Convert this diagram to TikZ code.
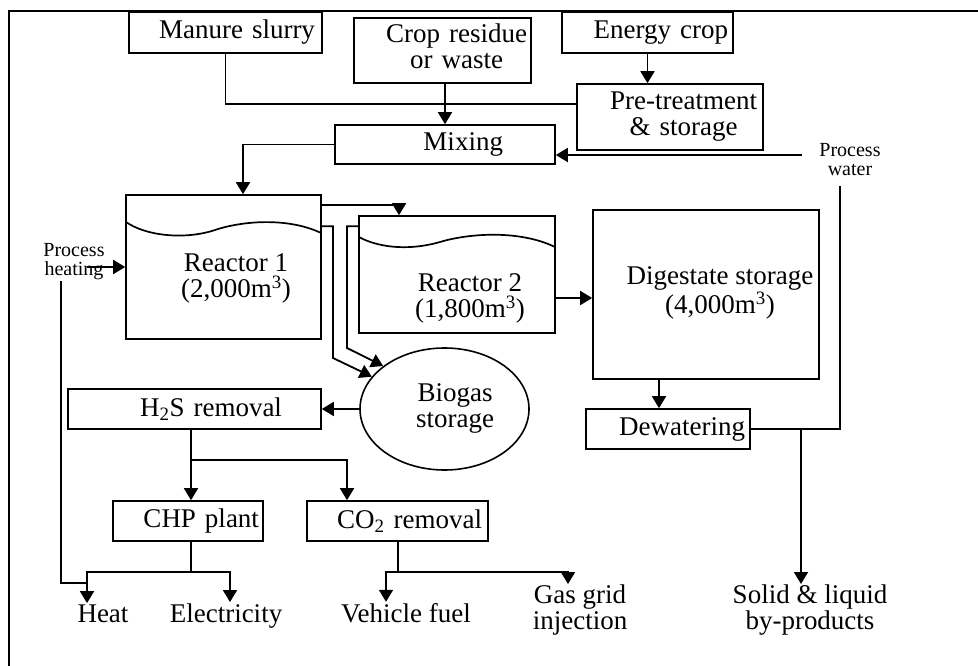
\documentclass[tikz,border=0pt]{standalone}
\usepackage{fontspec}
\setmainfont{Liberation Serif}
\usetikzlibrary{arrows.meta,shapes.geometric}
\tikzset{
  box/.style={draw, line width=1.6pt, inner sep=0pt, align=right},
  txt/.style={inner sep=1pt, align=center},
  small/.style={font=\fontsize{20}{19}\selectfont},
  pipe/.style={line width=1.7pt},
  flow/.style={line width=1.8pt, -{Triangle[length=12pt,width=14pt]}},
}

\begin{document}
\begin{tikzpicture}[x=1pt, y=-1pt, font=\fontsize{27}{26}\selectfont]
      \useasboundingbox (0,0) rectangle (978,666);
      \draw[line width=2.2pt] (978,11) -- (9,11) -- (9,666);
      % Define nodes
      \node[box, minimum width=193pt, minimum height=41pt, text width=179pt] (manure) at (225.5,32.5) {Manure slurry};
      \node[box, minimum width=177pt, minimum height=65pt, text width=169pt] (crop) at (442.5,50.5) {\begin{tabular}{@{}c@{}}Crop residue\\or waste\end{tabular}};
      \node[box, minimum width=171pt, minimum height=41pt, text width=161pt] (energy) at (647.5,32.5) {Energy crop};
      \node[box, minimum width=186pt, minimum height=66pt, text width=174pt] (pre) at (670,117) {\begin{tabular}{@{}c@{}}Pre-treatment\\\& storage\end{tabular}};
      \node[box, minimum width=220pt, minimum height=39pt, text width=116pt] (mix) at (445,144.5) {Mixing};
      \node[box, minimum width=195pt, minimum height=144pt] (r1) at (223.5,267) {};
      \node[box, minimum width=196pt, minimum height=117pt] (r2) at (457,274.5) {};
      \node[box, minimum width=226pt, minimum height=169pt] (dig) at (706,294.5) {};
      \node[txt] (r1t) at (236,278) {Reactor 1\\(2,000m\textsuperscript{3})};
      \node[txt] (r2t) at (470,298) {Reactor 2\\(1,800m\textsuperscript{3})};
      \node[txt] (digt) at (720,293) {Digestate storage\\(4,000m\textsuperscript{3})};
      \node[box, minimum width=164pt, minimum height=40pt, text width=154pt] (dew) at (668,429) {Dewatering};
      \node[box, ellipse, minimum width=169pt, minimum height=122pt, text width=99pt] (gas) at (444.5,409) {\begin{tabular}{@{}c@{}}Biogas\\storage\end{tabular}};
      \node[box, minimum width=253pt, minimum height=40pt, text width=175pt] (hs) at (194.5,409) {H\textsubscript{2}S removal};
      \node[box, minimum width=150pt, minimum height=40pt, text width=142pt] (chp) at (188,521) {CHP plant};
      \node[box, minimum width=181pt, minimum height=40pt, text width=169pt] (co) at (397.5,521) {CO\textsubscript{2} removal};
      \node[txt, small] (heating) at (74,262) {Process\\heating};
      \node[txt, small] (water) at (850,160) {Process\\water};
      \node[txt, anchor=base] (heat) at (103,622) {Heat};
      \node[txt, anchor=base] (elec) at (226,622) {Electricity};
      \node[txt, anchor=base] (fuel) at (406,622) {Vehicle fuel};
      \node[txt] (grid) at (580,610.5) {Gas grid\\injection};
      \node[txt] (byp) at (810,610.5) {Solid \& liquid\\by-products};
      % Liquid surface in the reactors
      \draw[pipe] (126,222) .. controls (146,236) and (185,240) .. (215,230) .. controls (245,220) and (290,218) .. (321,233);
      \draw[pipe] (359,237) .. controls (375,246) and (405,252) .. (440,242) .. controls (470,233) and (520,230) .. (555,247);
      % Connect nodes
      \coordinate (merge) at (445,104);
      \draw[pipe] (manure.south) |- (merge) -- (merge -| pre.west);
      \draw[flow] (crop.south -| mix.north) -- (mix.north);
      \draw[flow] (energy.south) -- (energy.south |- pre.north);
      \coordinate (win) at (802,155);
      \draw[flow] (win) -- (win -| mix.east);
      \coordinate (wdown) at (840,186);
      \draw[pipe] (wdown) |- (dew.east);
      \coordinate (split) at (801,429);
      \draw[flow] (split) -- (split |- byp.north);
      \draw[flow] (mix.west) -| ([xshift=19.5pt]r1.north);
      \draw[flow] ([yshift=-11pt]r1.north east) -| ([xshift=-58pt]r2.north);
      \draw[flow] ([yshift=-32pt]r1.north east) -| (333,358) -- (gas.156);
      \draw[flow] ([yshift=-11pt]r2.north west) -| (347,348) -- (gas.145);
      \coordinate (r2out) at ([yshift=-23.5pt]r2.east);
      \draw[flow] (r2out) -- (r2out -| dig.west);
      \coordinate (digout) at (dig.south -| 659,0);
      \draw[flow] (digout) -- (digout |- dew.north);
      \draw[flow] (gas.west) -- (hs.east);
      \coordinate (gjoin) at (191,460);
      \draw[flow] (hs.south -| gjoin) -- (gjoin |- chp.north);
      \draw[flow] (gjoin) -| ([xshift=-50.5pt]co.north);
      \coordinate (cjoin) at (191,572);
      \draw[pipe] (chp.south -| cjoin) -- (cjoin);
      \draw[flow] (cjoin) -| ([xshift=-16pt]heat.north);
      \draw[flow] (cjoin) -| ([xshift=4pt]elec.north);
      \coordinate (hjoin) at (87,583);
      \draw[pipe] ([xshift=-13pt]heating.south) |- (hjoin);
      \coordinate (hin) at (87,267);
      \draw[flow] (hin) -- (hin -| r1.west);
      \coordinate (ojoin) at (398,572);
      \draw[pipe] (co.south -| ojoin) -- (ojoin);
      \draw[flow] (ojoin) -| ([xshift=-20pt]fuel.north);
      \draw[flow] (ojoin) -| ([xshift=-12pt]grid.north);
\end{tikzpicture}
\end{document}
